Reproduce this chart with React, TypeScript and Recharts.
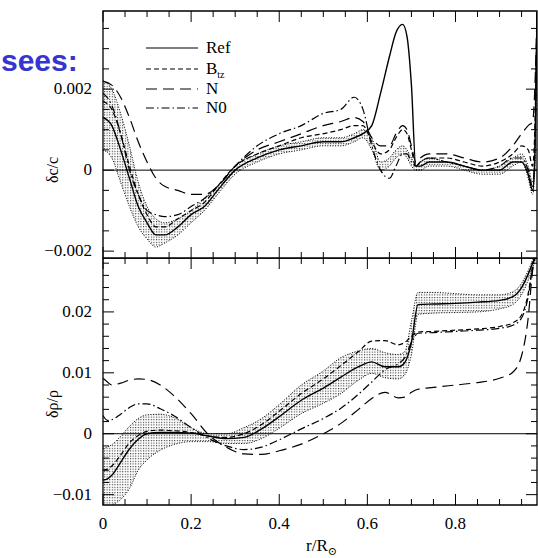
import React from 'react';
import {
  ComposedChart,
  Line,
  Area,
  XAxis,
  YAxis,
  ReferenceLine,
  ReferenceArea
} from 'recharts';

// radius grid of each panel
const rTop = [0, 0.02, 0.04, 0.06, 0.08, 0.1, 0.12, 0.14, 0.17, 0.2, 0.23, 0.26, 0.3, 0.35, 0.4, 0.45, 0.5, 0.54, 0.57, 0.59, 0.61, 0.63, 0.65, 0.665, 0.68, 0.69, 0.7, 0.71, 0.72, 0.74, 0.78, 0.82, 0.86, 0.9, 0.93, 0.95, 0.965, 0.975, 0.98, 0.985];
const rBot = [0, 0.01, 0.02, 0.04, 0.06, 0.08, 0.1, 0.13, 0.16, 0.2, 0.24, 0.28, 0.32, 0.36, 0.4, 0.45, 0.5, 0.54, 0.58, 0.61, 0.64, 0.67, 0.685, 0.7, 0.715, 0.75, 0.8, 0.85, 0.9, 0.93, 0.95, 0.965, 0.975, 0.985];

// dc/c
const refTop = [0.0013, 0.0011, 0.0005, -0.0002, -0.0009, -0.0013, -0.0016, -0.0016, -0.0014, -0.0011, -0.0009, -0.0005, 0.0, 0.0003, 0.0005, 0.0006, 0.0007, 0.0007, 0.0008, 0.0009, 0.0011, 0.0019, 0.0028, 0.0034, 0.0036, 0.0033, 0.0021, 0.0001, 0.0001, 0.0002, 0.0002, 0.0001, 0.0, 0.0, 0.0002, 0.0002, -0.0001, -0.0005, 0.0002, 0.0039];
const loTop = [0.0005, 0.0003, -0.0003, -0.0009, -0.0014, -0.0017, -0.0019, -0.0018, -0.0016, -0.0013, -0.001, -0.0006, -0.0001, 0.0002, 0.0004, 0.0005, 0.0006, 0.0006, 0.0007, 0.0008, 0.0005, 0.0, 0.0001, 0.0003, 0.0004, 0.0003, 0.0001, 0.0, 0.0, 0.0001, 0.0001, 0.0, -0.0001, -0.0001, 0.0001, 0.0002, -0.0002, -0.0006, 0.0, 0.0039];
const hiTop = [0.0022, 0.002, 0.0014, 0.0006, -0.0003, -0.0009, -0.0012, -0.0013, -0.0012, -0.001, -0.0007, -0.0004, 0.0001, 0.0004, 0.0006, 0.0007, 0.0008, 0.0008, 0.0009, 0.001, 0.0008, 0.0002, 0.0003, 0.0005, 0.0006, 0.0005, 0.0003, 0.0001, 0.0002, 0.0003, 0.0002, 0.0001, 0.0, 0.0001, 0.0003, 0.0004, 0.0001, -0.0003, 0.0005, 0.0039];
const btzTop = [0.0017, 0.0015, 0.0009, 0.0001, -0.0006, -0.0011, -0.0014, -0.0014, -0.0012, -0.001, -0.0008, -0.0004, 0.0001, 0.0004, 0.0006, 0.0008, 0.0009, 0.001, 0.0011, 0.0011, 0.0007, 0.0004, 0.0005, 0.0008, 0.001, 0.0009, 0.0005, 0.0001, 0.0002, 0.0003, 0.0003, 0.0002, 0.0001, 0.0002, 0.0004, 0.0006, 0.0005, 0.0001, 0.001, 0.0039];
const nTop = [0.0022, 0.0021, 0.0018, 0.0013, 0.0007, 0.0002, -0.0002, -0.0004, -0.0005, -0.0006, -0.0006, -0.0004, 0.0001, 0.0005, 0.0007, 0.0009, 0.0011, 0.0012, 0.0013, 0.0012, 0.0008, 0.0006, 0.0006, 0.0009, 0.0011, 0.001, 0.0006, 0.0002, 0.0003, 0.0004, 0.0004, 0.0003, 0.0002, 0.0003, 0.0006, 0.0009, 0.0011, 0.0012, 0.002, 0.0039];
const n0Top = [0.0019, 0.0016, 0.0009, 0.0, -0.0006, -0.001, -0.0011, -0.00115, -0.0011, -0.0009, -0.0007, -0.0004, 0.0001, 0.0006, 0.0009, 0.0011, 0.0014, 0.0015, 0.0018, 0.0015, 0.0006, 0.0, -0.0002, 0.0001, 0.0004, 0.0004, 0.0002, 0.0001, 0.0002, 0.0003, 0.0002, 0.0001, 0.0, 0.0001, 0.0003, 0.0003, 0.0, -0.0004, 0.0004, 0.0039];

// drho/rho
const refBot = [-0.0076, -0.0074, -0.0068, -0.0047, -0.0025, -0.0009, 0.0, 0.0002, 0.0002, 0.0001, -0.0004, -0.0008, -0.0006, 0.0008, 0.0028, 0.0055, 0.0075, 0.0093, 0.011, 0.0118, 0.011, 0.011, 0.0117, 0.015, 0.0212, 0.0213, 0.0214, 0.0216, 0.0219, 0.0225, 0.024, 0.0262, 0.028, 0.03];
const hiBot = [-0.0024, -0.0022, -0.0018, -0.0004, 0.0012, 0.0025, 0.0031, 0.0032, 0.0027, 0.001, 0.0, 0.0, 0.001, 0.0025, 0.0048, 0.008, 0.0103, 0.0125, 0.0136, 0.014, 0.0133, 0.013, 0.0135, 0.0185, 0.0232, 0.0232, 0.023, 0.0228, 0.0228, 0.0233, 0.0247, 0.0268, 0.0285, 0.03];
const loBot = [-0.012, -0.012, -0.0117, -0.0108, -0.009, -0.006, -0.0043, -0.0027, -0.0018, -0.0013, -0.0013, -0.0016, -0.0016, -0.0008, 0.0009, 0.0033, 0.005, 0.0066, 0.0088, 0.0099, 0.0092, 0.009, 0.0097, 0.013, 0.0196, 0.0198, 0.0199, 0.02, 0.0205, 0.0212, 0.0228, 0.0252, 0.0272, 0.0295];
const btzBot = [-0.006, -0.0058, -0.0053, -0.0035, -0.0015, -0.0003, 0.0004, 0.0006, 0.0005, 0.0002, -0.0004, -0.0006, 0.0, 0.0015, 0.0037, 0.0066, 0.009, 0.0112, 0.0135, 0.0152, 0.0153, 0.0146, 0.015, 0.016, 0.0167, 0.0168, 0.017, 0.0172, 0.0176, 0.0182, 0.0195, 0.023, 0.0275, 0.03];
const nBot = [0.0091, 0.0085, 0.008, 0.0083, 0.0088, 0.009, 0.0089, 0.008, 0.0063, 0.0033, -0.0002, -0.0022, -0.0033, -0.0034, -0.0028, -0.0017, 0.0, 0.0017, 0.004, 0.0058, 0.0068, 0.0059, 0.006, 0.0068, 0.0073, 0.0076, 0.008, 0.0084, 0.0091, 0.0101, 0.0128, 0.019, 0.0268, 0.03];
const n0Bot = [0.003, 0.0022, 0.0023, 0.0032, 0.0043, 0.0049, 0.0049, 0.0041, 0.003, 0.001, -0.0008, -0.002, -0.0026, -0.0022, -0.001, 0.0008, 0.0025, 0.0042, 0.0065, 0.0085, 0.0105, 0.0115, 0.0125, 0.015, 0.0165, 0.0166, 0.0168, 0.017, 0.0173, 0.0178, 0.019, 0.0225, 0.027, 0.03];

// ticks
const xTicks = [0, 0.05, 0.1, 0.15, 0.2, 0.25, 0.3, 0.35, 0.4, 0.45, 0.5, 0.55, 0.6, 0.65, 0.7, 0.75, 0.8, 0.85, 0.9, 0.95];
const yTicksTop = [-0.002, -0.0015, -0.001, -0.0005, 0, 0.0005, 0.001, 0.0015, 0.002, 0.0025, 0.003, 0.0035];
const yTicksBot = [-0.01, -0.008, -0.006, -0.004, -0.002, 0, 0.002, 0.004, 0.006, 0.008, 0.01, 0.012, 0.014, 0.016, 0.018, 0.02, 0.022, 0.024, 0.026, 0.028];
const xLabels: Record<string, string> = { '0': '0', '0.2': '0.2', '0.4': '0.4', '0.6': '0.6', '0.8': '0.8' };
const yLabelsTop: Record<string, string> = { '-0.002': '\u22120.002', '0': '0', '0.002': '0.002' };
const yLabelsBot: Record<string, string> = { '-0.01': '\u22120.01', '0': '0', '0.01': '0.01', '0.02': '0.02' };

const X_DOMAIN: [number, number] = [0, 0.985];
const TOP_DOMAIN: [number, number] = [-0.00217, 0.00393];
const BOT_DOMAIN: [number, number] = [-0.0117, 0.02885];

const W = 538;
const PL = 103;
const PR = 537;
const SERIF = '"Liberation Serif", "DejaVu Serif", serif';

const topData = rTop.map((r, i) => ({
  r, ref: refTop[i], btz: btzTop[i], n: nTop[i], n0: n0Top[i], lo: loTop[i], hi: hiTop[i], band: [loTop[i], hiTop[i]]
}));
const botData = rBot.map((r, i) => ({
  r, ref: refBot[i], btz: btzBot[i], n: nBot[i], n0: n0Bot[i], lo: loBot[i], hi: hiBot[i], band: [loBot[i], hiBot[i]]
}));

const key = (v: number) => String(parseFloat(v.toPrecision(6)));
const near = (v: number, step: number) => Math.abs(v / step - Math.round(v / step)) < 1e-6;

const makeXTick = (top: number, bottom: number, withLabels: boolean) => (props: any) => {
  const { x, payload } = props;
  const v = payload.value;
  const major = near(v, 0.2);
  const len = major ? 11 : 6;
  const label = withLabels ? xLabels[key(v)] : undefined;
  return (
    <g>
      <line x1={x} x2={x} y1={bottom} y2={bottom - len} stroke="#000" strokeWidth={1} />
      <line x1={x} x2={x} y1={top} y2={top + len} stroke="#000" strokeWidth={1} />
      {label && (
        <text x={x} y={bottom + 24} textAnchor="middle" fontFamily={SERIF} fontSize={17} fill="#000">
          {label}
        </text>
      )}
    </g>
  );
};

const makeYTick = (majorStep: number, labels: Record<string, string>) => (props: any) => {
  const { y, payload } = props;
  const v = payload.value;
  const major = near(v, majorStep);
  const len = major ? 11 : 6;
  const label = labels[key(v)];
  return (
    <g>
      <line x1={PL} x2={PL + len} y1={y} y2={y} stroke="#000" strokeWidth={1} />
      <line x1={PR} x2={PR - len} y1={y} y2={y} stroke="#000" strokeWidth={1} />
      {label && (
        <text x={92} y={y + 5} textAnchor="end" fontFamily={SERIF} fontSize={17} fill="#000">
          {label}
        </text>
      )}
    </g>
  );
};

const DotsDefs = ({ id }: { id: string }) => (
  <defs>
    <pattern id={id} patternUnits="userSpaceOnUse" width={2.6} height={2.6}>
      <rect x={0} y={0} width={1.1} height={1.1} fill="#333" />
    </pattern>
  </defs>
);

const seriesLines = (
  [
    { dataKey: 'lo', dash: '1 1.6', width: 1 },
    { dataKey: 'hi', dash: '1 1.6', width: 1 },
    { dataKey: 'n', dash: '11 6', width: 1.2 },
    { dataKey: 'n0', dash: '8 3 1.5 3', width: 1.2 },
    { dataKey: 'btz', dash: '5 3', width: 1.2 },
    { dataKey: 'ref', dash: undefined, width: 1.4 }
  ] as Array<{ dataKey: string; dash?: string; width: number }>
).map((s) => (
  <Line
    key={s.dataKey}
    type="monotone"
    dataKey={s.dataKey}
    stroke="#000"
    strokeWidth={s.width}
    strokeDasharray={s.dash}
    dot={false}
    activeDot={false}
    isAnimationActive={false}
  />
));

const Panel = ({
  data, domain, yTicks, yMajor, yLabels, height, top, bottom, patternId, withXLabels
}: any) => (
  <ComposedChart
    width={W}
    height={height}
    data={data}
    margin={{ top, right: W - PR, bottom: 0, left: 0 }}
  >
    <DotsDefs id={patternId} />
    <XAxis
      dataKey="r"
      type="number"
      domain={X_DOMAIN}
      allowDataOverflow
      ticks={xTicks}
      interval={0}
      tickLine={false}
      axisLine={false}
      height={bottom}
      tick={makeXTick(top, height - bottom, withXLabels)}
    />
    <YAxis
      type="number"
      domain={domain}
      allowDataOverflow
      ticks={yTicks}
      interval={0}
      tickLine={false}
      axisLine={false}
      width={PL}
      tick={makeYTick(yMajor, yLabels)}
    />
    <Area
      type="monotone"
      dataKey="band"
      stroke="none"
      fill={`url(#${patternId})`}
      fillOpacity={1}
      dot={false}
      activeDot={false}
      isAnimationActive={false}
    />
    <ReferenceLine y={0} stroke="#000" strokeWidth={1} ifOverflow="visible" />
    {seriesLines}
    <ReferenceArea
      x1={X_DOMAIN[0]}
      x2={X_DOMAIN[1]}
      y1={domain[0]}
      y2={domain[1]}
      fill="none"
      stroke="#000"
      strokeWidth={1.3}
      ifOverflow="visible"
    />
  </ComposedChart>
);

const legendRows = [
  { name: 'Ref', sub: '', dash: undefined, y: 48 },
  { name: 'B', sub: 'tz', dash: '5 3', y: 69 },
  { name: 'N', sub: '', dash: '11 6', y: 89 },
  { name: 'N0', sub: '', dash: '8 3 1.5 3', y: 108 }
];

export default function App() {
  return (
    <div style={{ position: 'absolute', left: 0, top: 0, width: W, height: 558, background: '#fff', overflow: 'hidden' }}>
      <div
        style={{
          position: 'absolute',
          left: 1,
          top: 44,
          whiteSpace: 'nowrap',
          fontFamily: '"Liberation Sans", Arial, sans-serif',
          fontWeight: 'bold',
          fontSize: 30,
          lineHeight: '34px',
          color: '#3535d2'
        }}
      >
        sees:
      </div>
      <div style={{ position: 'absolute', left: 0, top: 0 }}>
        <Panel
          data={topData}
          domain={TOP_DOMAIN}
          yTicks={yTicksTop}
          yMajor={0.002}
          yLabels={yLabelsTop}
          height={288}
          top={11}
          bottom={30}
          patternId="dotsTop"
          withXLabels={false}
        />
      </div>
      <div style={{ position: 'absolute', left: 0, top: 258 }}>
        <Panel
          data={botData}
          domain={BOT_DOMAIN}
          yTicks={yTicksBot}
          yMajor={0.01}
          yLabels={yLabelsBot}
          height={300}
          top={0}
          bottom={53}
          patternId="dotsBot"
          withXLabels
        />
      </div>
      <svg
        width={W}
        height={558}
        style={{ position: 'absolute', left: 0, top: 0, pointerEvents: 'none' }}
        fontFamily={SERIF}
      >
        {legendRows.map((row) => (
          <g key={row.name}>
            <line x1={146} x2={198} y1={row.y} y2={row.y} stroke="#000" strokeWidth={1.2} strokeDasharray={row.dash} />
            <text x={206} y={row.y + 5} fontSize={17} fill="#000">
              {row.name}
              {row.sub && (
                <tspan fontSize={10} dy={4}>
                  {row.sub}
                </tspan>
              )}
            </text>
          </g>
        ))}
        <text x={58} y={170} fontSize={16} textAnchor="middle" transform="rotate(-90 58 170)" fill="#000">
          {'\u03b4c/c'}
        </text>
        <text x={58} y={404} fontSize={16} textAnchor="middle" transform="rotate(-90 58 404)" fill="#000">
          {'\u03b4\u03c1/\u03c1'}
        </text>
        <text x={306} y={551} fontSize={17} fill="#000">
          r/R
          <tspan fontSize={11} dy={4}>
            {'\u2299'}
          </tspan>
        </text>
      </svg>
    </div>
  );
}
